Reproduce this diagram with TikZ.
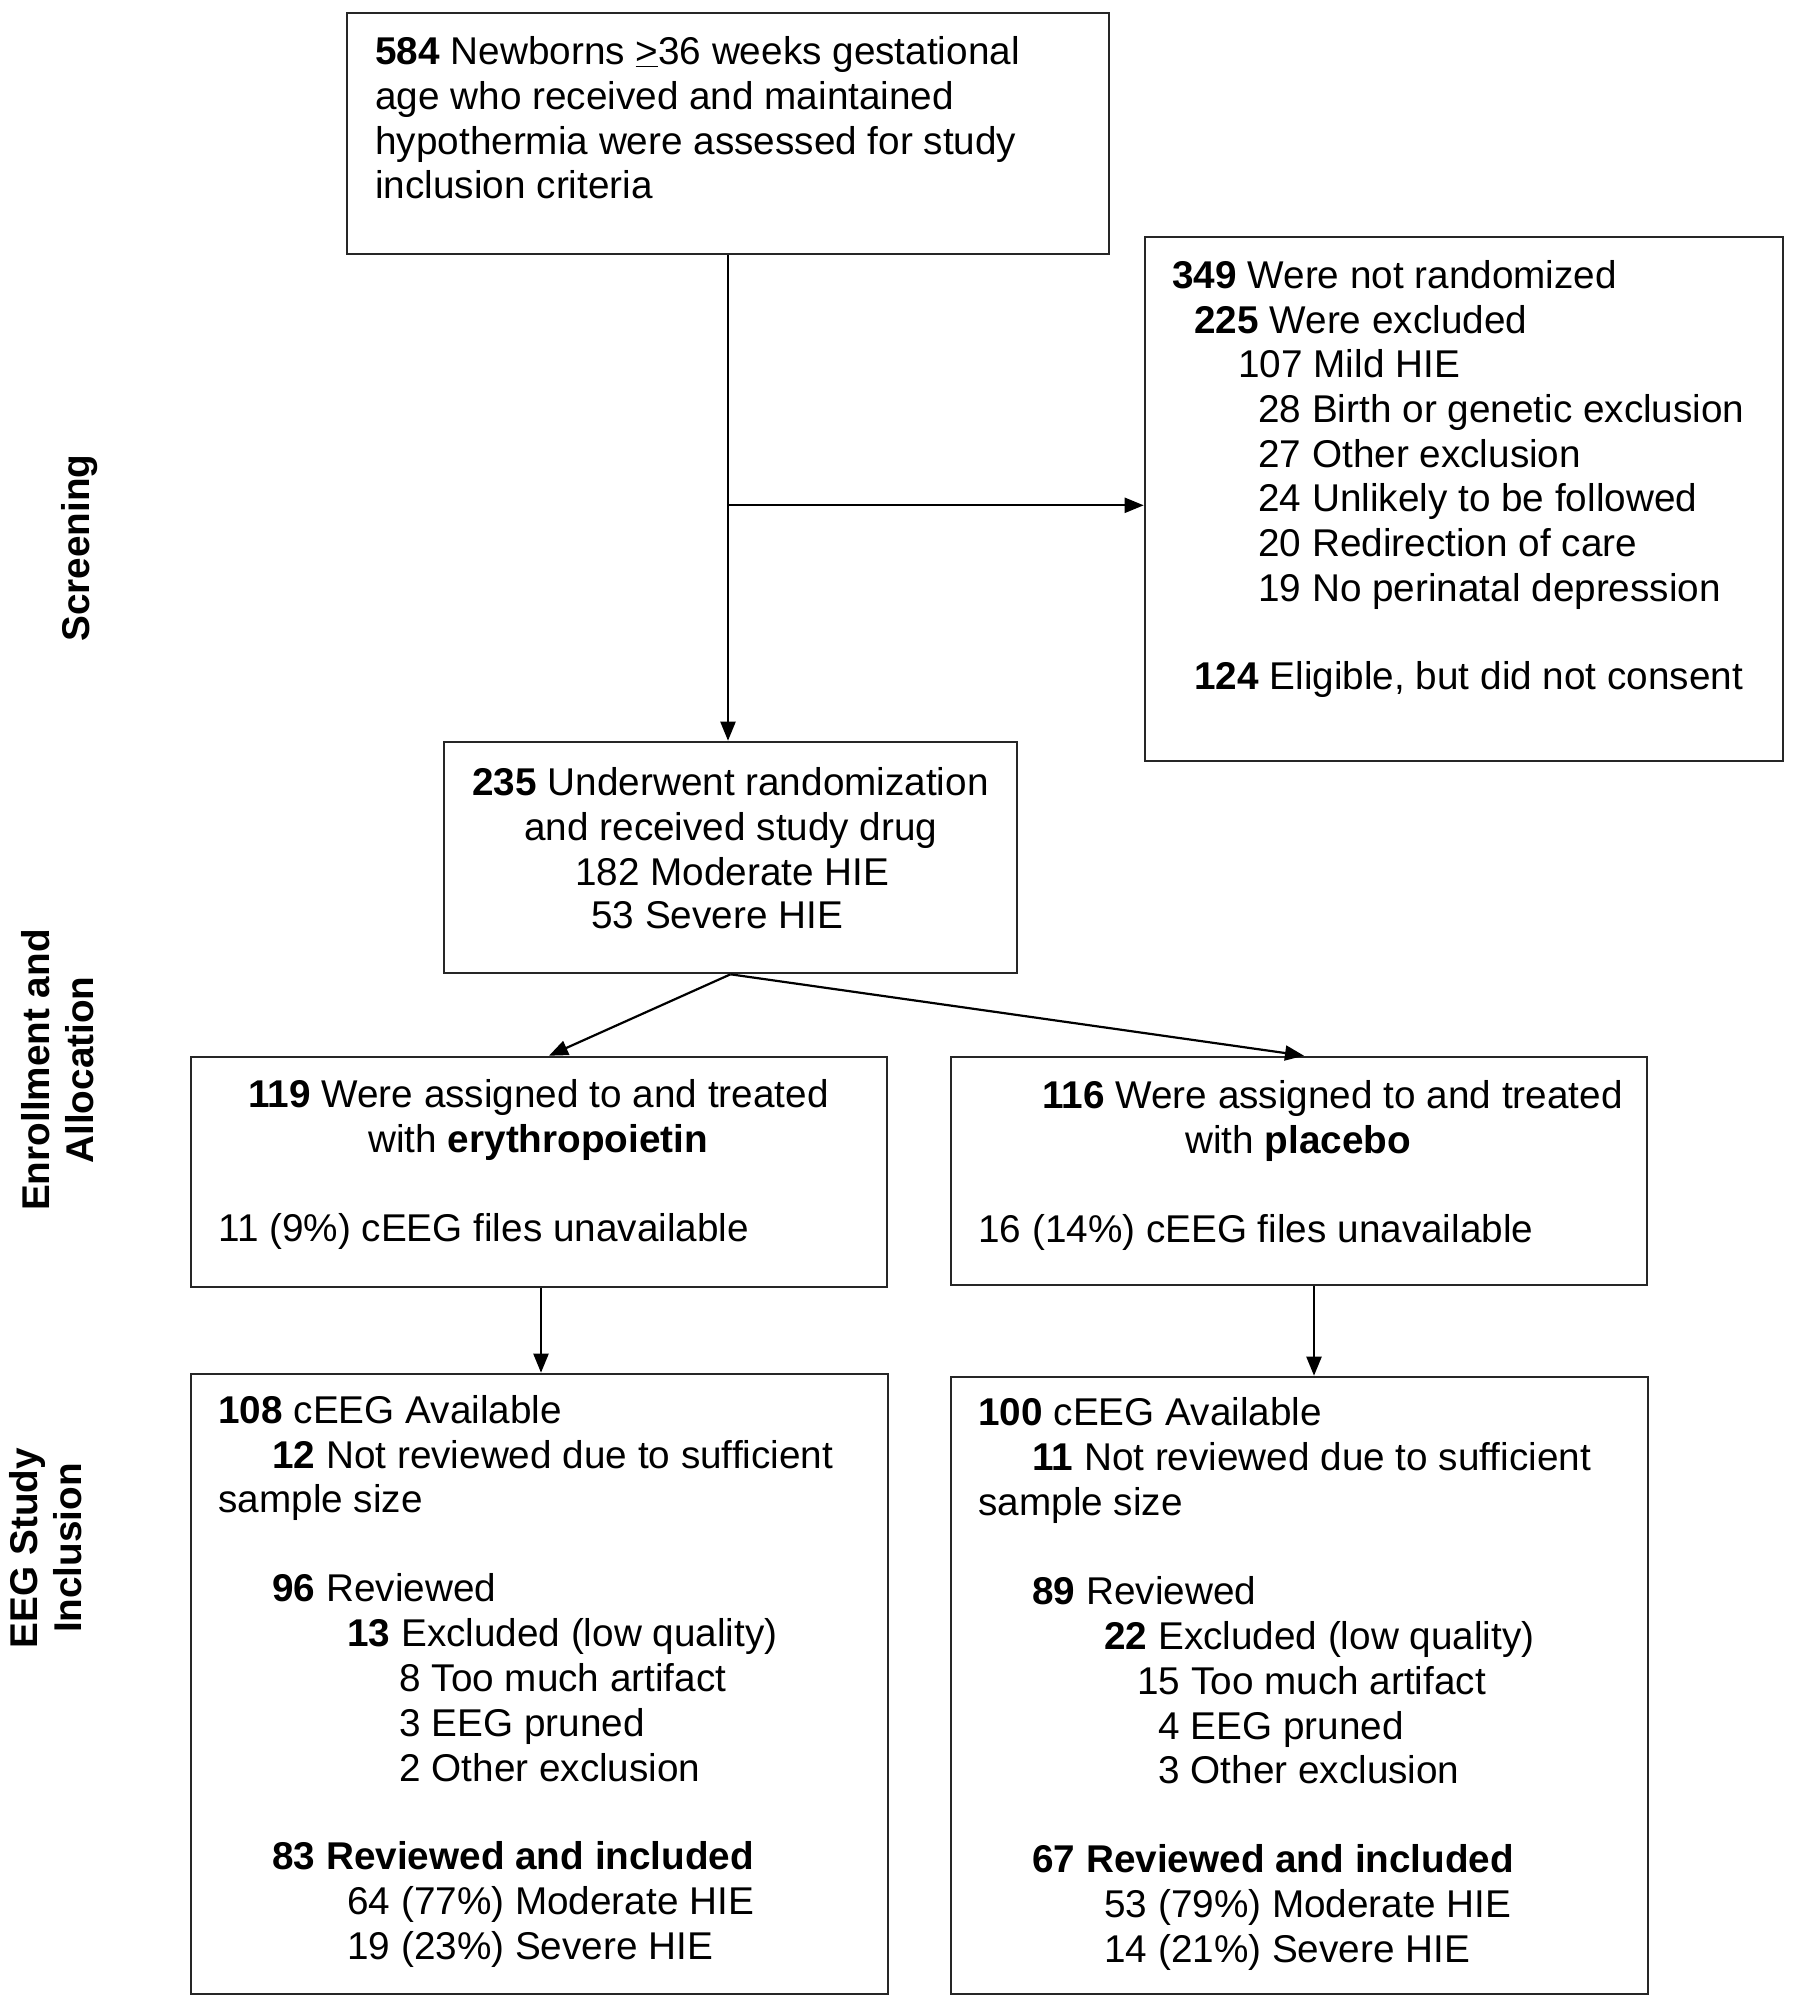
\documentclass[tikz,border=0pt]{standalone}
\usepackage{fontspec}
\setmainfont{Liberation Sans}
\usetikzlibrary{fit,arrows.meta,calc}
\begin{document}
\begin{tikzpicture}[x=0.5pt,y=-0.5pt,
  box/.style={draw=black!85,line width=1.3pt,inner sep=0pt,fill=none},
  arr/.style={draw=black,line width=1.1pt,-{Triangle[length=9.5pt,width=7.5pt]}},
  t/.style={anchor=base west,inner sep=0pt,font=\fontsize{19.35}{22.5}\selectfont},
  side/.style={rotate=90,align=center,inner sep=0pt,font=\fontsize{19.35}{22}\selectfont\bfseries}]
\useasboundingbox (0,0) rectangle (1800,2013);
% boxes
\node[box,fit={(347,13) (1109,254)}] (b1) {};
\node[box,fit={(1145,237) (1783,761)}] (b2) {};
\node[box,fit={(444,742) (1017,973)}] (b3) {};
\node[box,fit={(191,1057) (887,1287)}] (b4) {};
\node[box,fit={(951,1057) (1647,1285)}] (b5) {};
\node[box,fit={(191,1374) (888,1994)}] (b6) {};
\node[box,fit={(951,1377) (1648,1994)}] (b7) {};
% side labels
\node[side] (s1) at (80,548) {Screening};
\node[side] (s2) at (58,1070) {Enrollment and\\Allocation};
\node[side] (s3) at (46,1548) {EEG Study\\Inclusion};
% box 1
\node[t] (a1) at (375,64) {\textbf{584} Newborns \underline{>}36 weeks gestational};
\node[t] (a2) at (375,109) {age who received and maintained};
\node[t] (a3) at (375,154) {hypothermia were assessed for study};
\node[t] (a4) at (375,198) {inclusion criteria};
% box 2
\node[t] (c1) at (1172,288) {\textbf{349} Were not randomized};
\node[t] (c2) at (1194,333) {\textbf{225} Were excluded};
\node[t] (c3) at (1238,377) {107 Mild HIE};
\node[t] (c4) at (1258,422) {28 Birth or genetic exclusion};
\node[t] (c5) at (1258,467) {27 Other exclusion};
\node[t] (c6) at (1258,511) {24 Unlikely to be followed};
\node[t] (c7) at (1258,556) {20 Redirection of care};
\node[t] (c8) at (1258,601) {19 No perinatal depression};
\node[t] (c9) at (1194,689) {\textbf{124} Eligible, but did not consent};
% box 3
\node[t] (d1) at (472,795) {\textbf{235} Underwent randomization};
\node[t] (d2) at (524,840) {and received study drug};
\node[t] (d3) at (575,885) {182 Moderate HIE};
\node[t] (d4) at (591,928) {53 Severe HIE};
% box 4
\node[t] (e1) at (248,1107) {\textbf{119} Were assigned to and treated};
\node[t] (e2) at (368,1152) {with \textbf{erythropoietin}};
\node[t] (e3) at (218,1241) {11 (9\%) cEEG files unavailable};
% box 5
\node[t] (f1) at (1042,1108) {\textbf{116} Were assigned to and treated};
\node[t] (f2) at (1185,1153) {with \textbf{placebo}};
\node[t] (f3) at (978,1242) {16 (14\%) cEEG files unavailable};
% box 6
\node[t] (g1) at (218,1423) {\textbf{108} cEEG Available};
\node[t] (g2) at (272,1468) {\textbf{12} Not reviewed due to sufficient};
\node[t] (g3) at (218,1512) {sample size};
\node[t] (g4) at (272,1601) {\textbf{96} Reviewed};
\node[t] (g5) at (347,1646) {\textbf{13} Excluded (low quality)};
\node[t] (g6) at (399,1691) {8 Too much artifact};
\node[t] (g7) at (399,1736) {3 EEG pruned};
\node[t] (g8) at (399,1781) {2 Other exclusion};
\node[t] (g9) at (272,1869) {\textbf{83 Reviewed and included}};
\node[t] (g10) at (347,1914) {64 (77\%) Moderate HIE};
\node[t] (g11) at (347,1959) {19 (23\%) Severe HIE};
% box 7
\node[t] (h1) at (978,1425) {\textbf{100} cEEG Available};
\node[t] (h2) at (1032,1470) {\textbf{11} Not reviewed due to sufficient};
\node[t] (h3) at (978,1515) {sample size};
\node[t] (h4) at (1032,1604) {\textbf{89} Reviewed};
\node[t] (h5) at (1104,1649) {\textbf{22} Excluded (low quality)};
\node[t] (h6) at (1137,1694) {15 Too much artifact};
\node[t] (h7) at (1158,1739) {4 EEG pruned};
\node[t] (h8) at (1158,1783) {3 Other exclusion};
\node[t] (h9) at (1032,1872) {\textbf{67 Reviewed and included}};
\node[t] (h10) at (1104,1917) {53 (79\%) Moderate HIE};
\node[t] (h11) at (1104,1962) {14 (21\%) Severe HIE};
% connectors
\coordinate (br) at ($(b1.south)+(0,250)$);
\draw[arr] (b1.south) -- (b1.south |- b3.north);
\draw[arr] (br) -- (br -| b2.west);
\coordinate (b4in) at ($(b4.north)+(10,0)$);
\coordinate (b5in) at ($(b5.north)+(5,0)$);
\draw[arr] (b3.south) -- (b4in);
\draw[arr] (b3.south) -- (b5in);
\coordinate (b4out) at ($(b4.south)+(2,0)$);
\draw[arr] (b4out) -- (b4out |- b6.north);
\coordinate (b5out) at ($(b5.south)+(15,0)$);
\draw[arr] (b5out) -- (b5out |- b7.north);
\end{tikzpicture}
\end{document}
